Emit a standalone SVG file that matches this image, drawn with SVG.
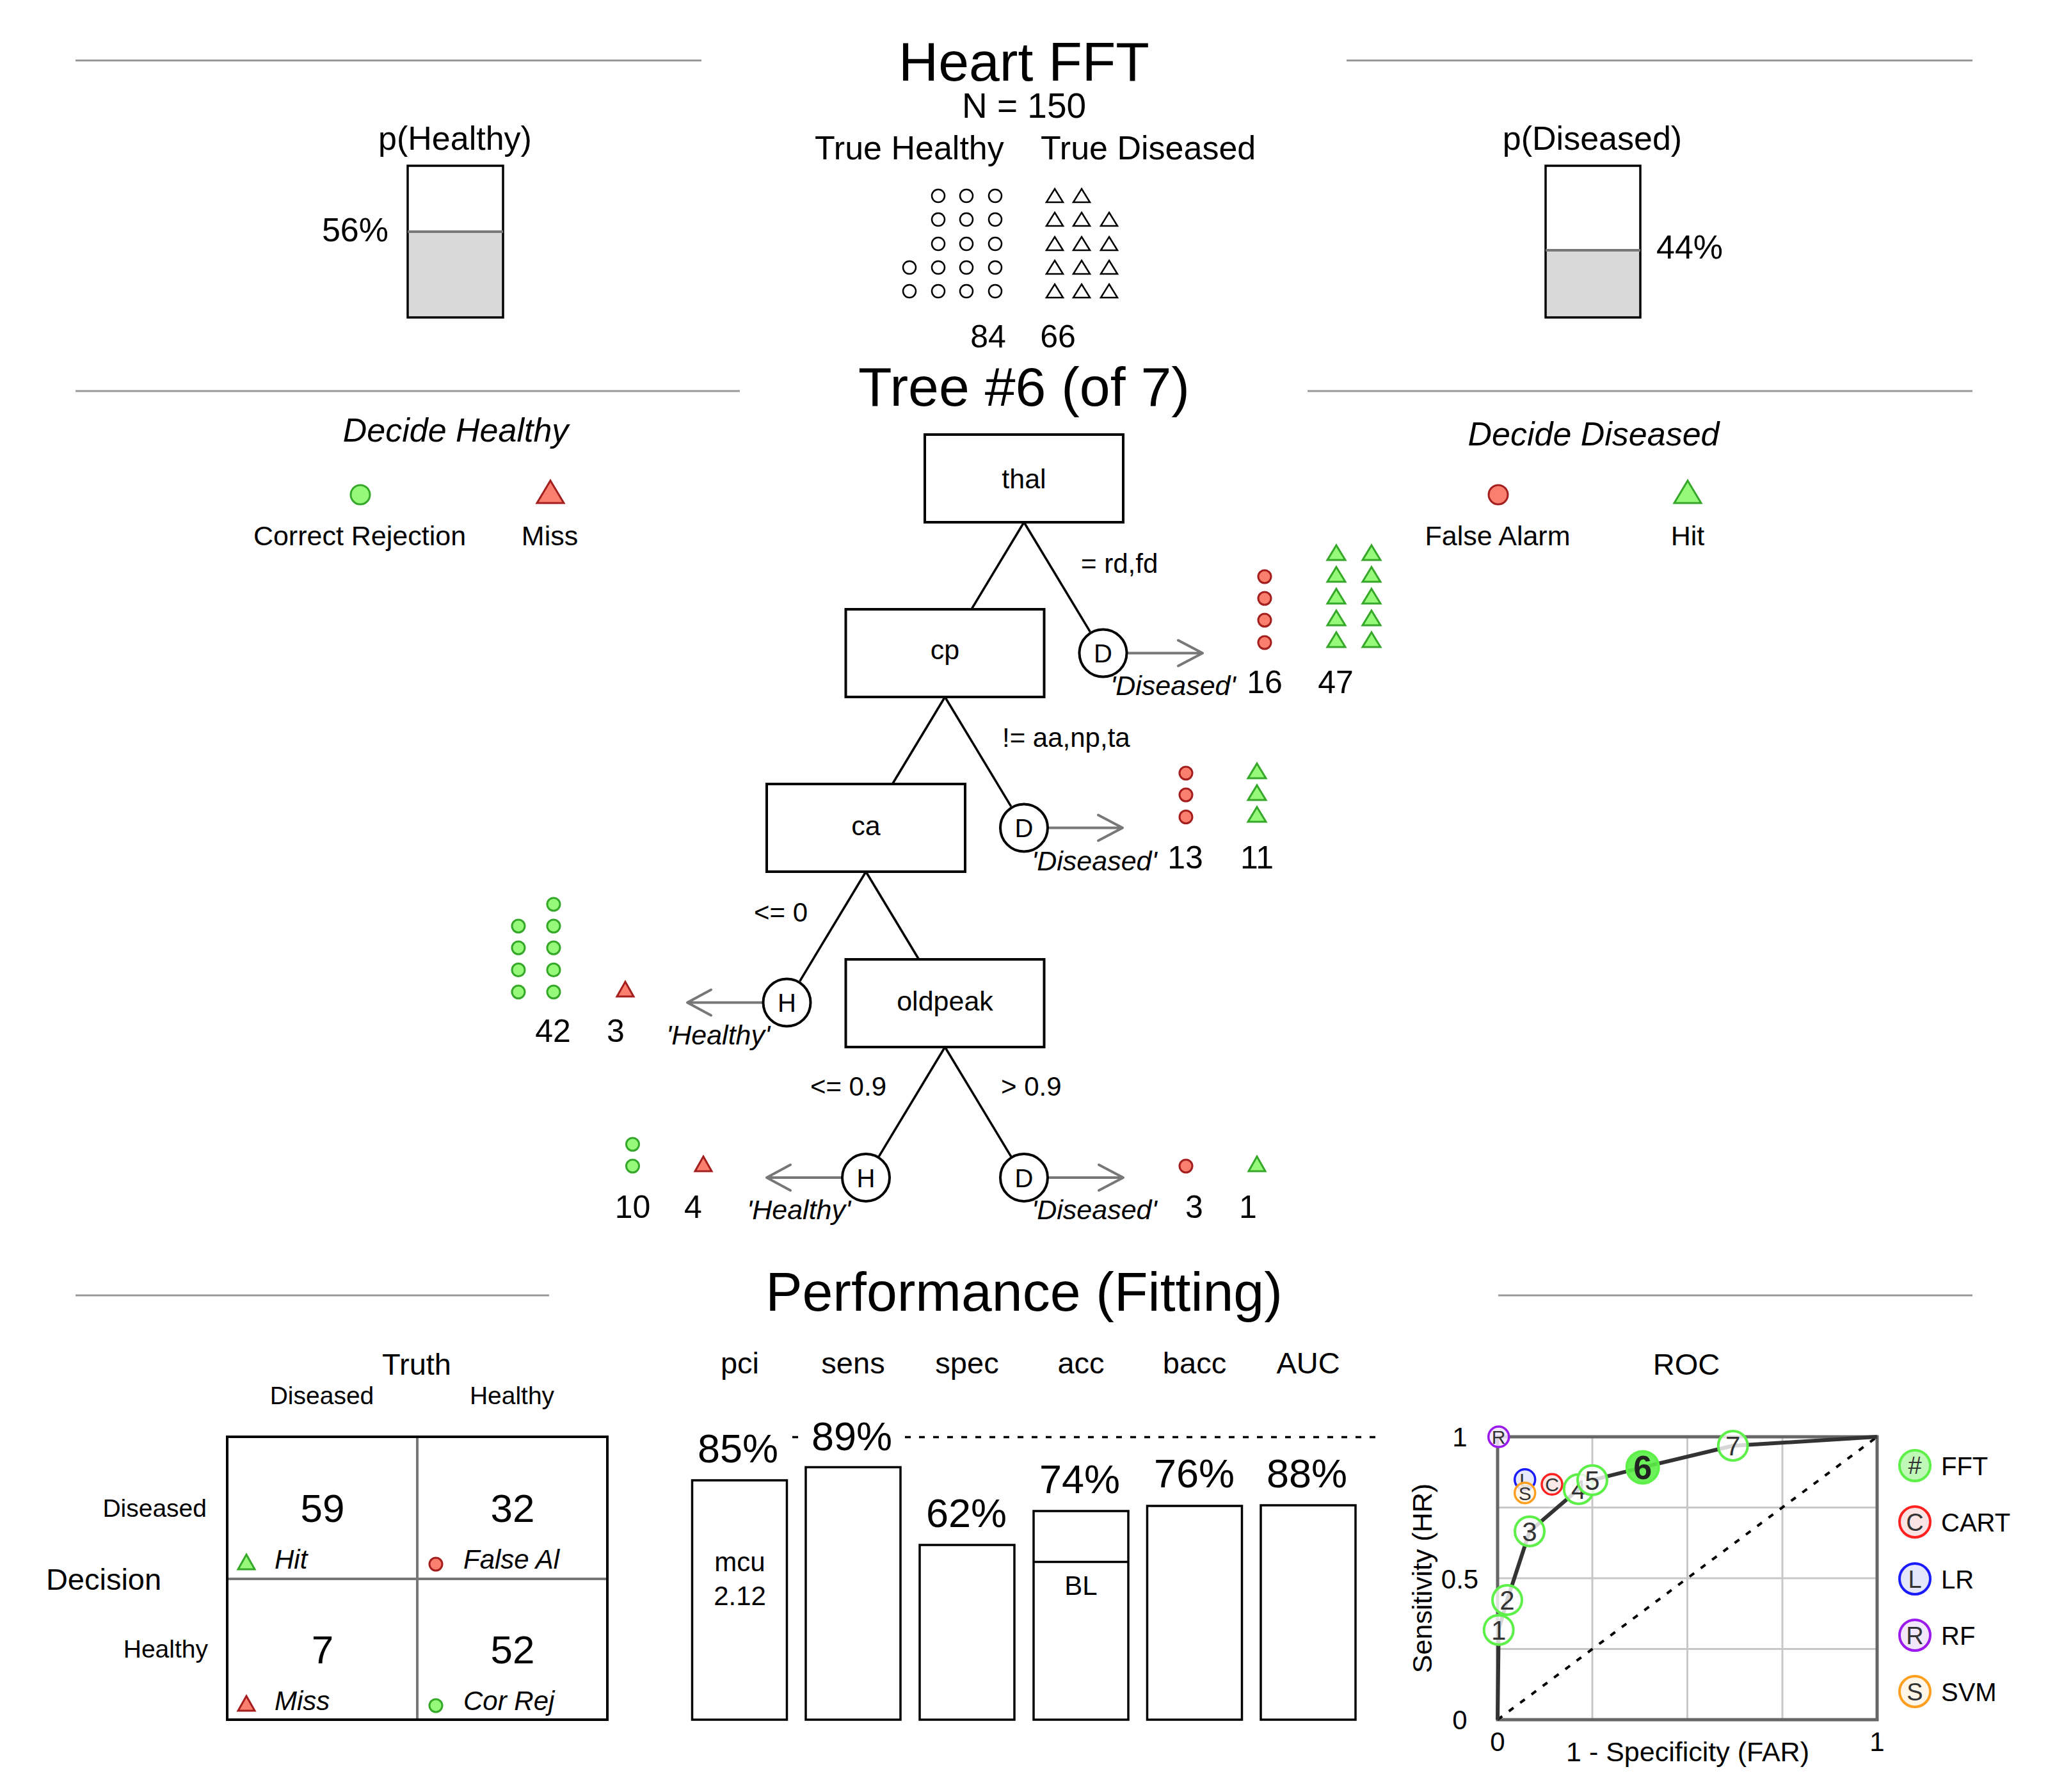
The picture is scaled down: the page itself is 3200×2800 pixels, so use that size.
<svg xmlns="http://www.w3.org/2000/svg" width="3200" height="2800" viewBox="0 0 3200 2800">
<style>
text{font-family:"Liberation Sans",Arial,sans-serif;fill:#000}
.rule{stroke:#999;stroke-width:3;fill:none}
.box{fill:#fff;stroke:#000;stroke-width:4}
.edge{stroke:#000;stroke-width:3.5;fill:none}
.arr{stroke:#777;stroke-width:4;fill:none;stroke-linecap:round;stroke-linejoin:round}
.dnode{fill:#fff;stroke:#000;stroke-width:4}
.oc{fill:#fff;stroke:#000;stroke-width:2.5}
.gc{fill:#96f97a;stroke:#35a82a;stroke-width:3}
.rc{fill:#fa7f6e;stroke:#a51e1e;stroke-width:3}
.c{text-anchor:middle}
.e{text-anchor:end}
.i{font-style:italic}
.bar{fill:#fff;stroke:#000;stroke-width:3.5}
.grid{stroke:#c8c8c8;stroke-width:3}
.pt{fill:#fff;fill-opacity:0.8;stroke:#5cf048;stroke-width:4}
.ptl{font-size:42px;fill:#333;text-anchor:middle}
</style>

<!-- section rules -->
<g id="rules">
<line class="rule" x1="118" y1="94.5" x2="1096" y2="94.5"/>
<line class="rule" x1="2104" y1="94.5" x2="3082" y2="94.5"/>
<line class="rule" x1="118" y1="611" x2="1156" y2="611"/>
<line class="rule" x1="2043" y1="611" x2="3082" y2="611"/>
<line class="rule" x1="118" y1="2024" x2="858" y2="2024"/>
<line class="rule" x1="2341" y1="2024" x2="3082" y2="2024"/>
</g>

<!-- header -->
<g id="header">
<text class="c" x="1600" y="126" font-size="86">Heart FFT</text>
<text class="c" x="1600" y="184" font-size="55">N = 150</text>
<text x="1273" y="249" font-size="52">True Healthy</text>
<text x="1626" y="249" font-size="52">True Diseased</text>
<text class="c" x="1544" y="543" font-size="50">84</text>
<text class="c" x="1653" y="543" font-size="50">66</text>
</g>

<g id="true-healthy-icons">
<circle class="oc" cx="1466" cy="306" r="10"/><circle class="oc" cx="1510" cy="306" r="10"/><circle class="oc" cx="1555" cy="306" r="10"/>
<circle class="oc" cx="1466" cy="343" r="10"/><circle class="oc" cx="1510" cy="343" r="10"/><circle class="oc" cx="1555" cy="343" r="10"/>
<circle class="oc" cx="1466" cy="381" r="10"/><circle class="oc" cx="1510" cy="381" r="10"/><circle class="oc" cx="1555" cy="381" r="10"/>
<circle class="oc" cx="1421" cy="418" r="10"/><circle class="oc" cx="1466" cy="418" r="10"/><circle class="oc" cx="1510" cy="418" r="10"/><circle class="oc" cx="1555" cy="418" r="10"/>
<circle class="oc" cx="1421" cy="455" r="10"/><circle class="oc" cx="1466" cy="455" r="10"/><circle class="oc" cx="1510" cy="455" r="10"/><circle class="oc" cx="1555" cy="455" r="10"/>
</g>
<g id="true-diseased-icons">
<polygon class="oc" points="1648,295 1661,316 1635,316"/><polygon class="oc" points="1690,295 1703,316 1677,316"/>
<polygon class="oc" points="1648,332 1661,353 1635,353"/><polygon class="oc" points="1690,332 1703,353 1677,353"/><polygon class="oc" points="1733,332 1746,353 1720,353"/>
<polygon class="oc" points="1648,370 1661,391 1635,391"/><polygon class="oc" points="1690,370 1703,391 1677,391"/><polygon class="oc" points="1733,370 1746,391 1720,391"/>
<polygon class="oc" points="1648,407 1661,428 1635,428"/><polygon class="oc" points="1690,407 1703,428 1677,428"/><polygon class="oc" points="1733,407 1746,428 1720,428"/>
<polygon class="oc" points="1648,444 1661,465 1635,465"/><polygon class="oc" points="1690,444 1703,465 1677,465"/><polygon class="oc" points="1733,444 1746,465 1720,465"/>
</g>

<g id="p-healthy">
<text class="c" x="711" y="234" font-size="52">p(Healthy)</text>
<rect x="637" y="362" width="149" height="134" fill="#d9d9d9"/>
<rect x="637" y="259" width="149" height="237" fill="none" stroke="#000" stroke-width="3.5"/>
<line x1="637" y1="362" x2="786" y2="362" stroke="#777" stroke-width="4"/>
<text class="e" x="607" y="377" font-size="52">56%</text>
</g>
<g id="p-diseased">
<text class="c" x="2488" y="234" font-size="52">p(Diseased)</text>
<rect x="2415" y="391" width="148" height="105" fill="#d9d9d9"/>
<rect x="2415" y="259" width="148" height="237" fill="none" stroke="#000" stroke-width="3.5"/>
<line x1="2415" y1="391" x2="2563" y2="391" stroke="#777" stroke-width="4"/>
<text x="2588" y="404" font-size="52">44%</text>
</g>

<!-- tree title and legends -->
<text class="c" x="1600" y="634" font-size="86">Tree #6 (of 7)</text>
<g id="legend-healthy">
<text class="c i" x="712" y="690" font-size="52">Decide Healthy</text>
<circle class="gc" cx="563" cy="773" r="15"/>
<polygon class="rc" points="860,751 881,786 839,786"/>
<text class="c" x="562" y="852" font-size="43">Correct Rejection</text>
<text class="c" x="859" y="852" font-size="43">Miss</text>
</g>
<g id="legend-diseased">
<text class="c i" x="2490" y="696" font-size="52">Decide Diseased</text>
<circle class="rc" cx="2341" cy="773" r="15"/>
<polygon class="gc" points="2637,751 2658,786 2616,786"/>
<text class="c" x="2340" y="852" font-size="43">False Alarm</text>
<text class="c" x="2637" y="852" font-size="43">Hit</text>
</g>

<!-- connectors -->
<g id="connectors">
<line class="edge" x1="1600" y1="816" x2="1517.9" y2="952"/>
<line class="edge" x1="1600" y1="816" x2="1703.3" y2="987.1"/>
<line class="edge" x1="1476.5" y1="1089" x2="1394.4" y2="1225"/>
<line class="edge" x1="1476.5" y1="1089" x2="1579.8" y2="1260.1"/>
<line class="edge" x1="1353" y1="1362" x2="1249.7" y2="1533.1"/>
<line class="edge" x1="1353" y1="1362" x2="1435.7" y2="1499"/>
<line class="edge" x1="1476.5" y1="1636" x2="1373.2" y2="1807.1"/>
<line class="edge" x1="1476.5" y1="1636" x2="1579.8" y2="1807.1"/>
<path class="arr" d="M1762.5,1020.5 H1879 M1841,1000.5 L1879,1020.5 L1841,1040.5"/>
<path class="arr" d="M1639,1293.5 H1754 M1716,1273.5 L1754,1293.5 L1716,1313.5"/>
<path class="arr" d="M1190.5,1566.5 H1074 M1111,1546.5 L1074,1566.5 L1111,1586.5"/>
<path class="arr" d="M1314,1840 H1198 M1235,1820 L1198,1840 L1235,1860"/>
<path class="arr" d="M1639,1840 H1755 M1717,1820 L1755,1840 L1717,1860"/>
<text x="1689" y="895" font-size="42">= rd,fd</text>
<text x="1566" y="1167" font-size="42">!= aa,np,ta</text>
<text class="e" x="1262" y="1440" font-size="42">&lt;= 0</text>
<text class="e" x="1385" y="1712" font-size="42">&lt;= 0.9</text>
<text x="1564" y="1712" font-size="42">&gt; 0.9</text>
</g>

<!-- nodes -->
<g id="node-thal">
<rect class="box" x="1445" y="679" width="310" height="137"/>
<text class="c" x="1600" y="763" font-size="43">thal</text>
</g>
<g id="node-cp">
<rect class="box" x="1321.5" y="952" width="310" height="137"/>
<text class="c" x="1476.5" y="1030" font-size="43">cp</text>
</g>
<g id="node-ca">
<rect class="box" x="1198" y="1225" width="310" height="137"/>
<text class="c" x="1353" y="1305" font-size="43">ca</text>
</g>
<g id="node-oldpeak">
<rect class="box" x="1321.5" y="1499" width="310" height="137"/>
<text class="c" x="1476.5" y="1579" font-size="43">oldpeak</text>
</g>

<g id="leaf-1">
<circle class="dnode" cx="1723.5" cy="1020.5" r="37"/>
<text class="c" x="1723.5" y="1035" font-size="40">D</text>
<text class="i" x="1735" y="1086" font-size="43">'Diseased'</text>
<text class="c" x="1976" y="1083" font-size="50">16</text>
<text class="c" x="2087" y="1083" font-size="50">47</text>
<circle class="rc" cx="1976" cy="901" r="10"/><circle class="rc" cx="1976" cy="935" r="10"/><circle class="rc" cx="1976" cy="969" r="10"/><circle class="rc" cx="1976" cy="1004" r="10"/>
<polygon class="gc" points="2088,852 2102,875 2074,875"/><polygon class="gc" points="2143,852 2157,875 2129,875"/>
<polygon class="gc" points="2088,886 2102,909 2074,909"/><polygon class="gc" points="2143,886 2157,909 2129,909"/>
<polygon class="gc" points="2088,920 2102,943 2074,943"/><polygon class="gc" points="2143,920 2157,943 2129,943"/>
<polygon class="gc" points="2088,954 2102,977 2074,977"/><polygon class="gc" points="2143,954 2157,977 2129,977"/>
<polygon class="gc" points="2088,988 2102,1011 2074,1011"/><polygon class="gc" points="2143,988 2157,1011 2129,1011"/>
</g>
<g id="leaf-2">
<circle class="dnode" cx="1600" cy="1293.5" r="37"/>
<text class="c" x="1600" y="1308" font-size="40">D</text>
<text class="i" x="1612" y="1360" font-size="43">'Diseased'</text>
<text class="c" x="1852" y="1357" font-size="50">13</text>
<text class="c" x="1964" y="1357" font-size="50">11</text>
<circle class="rc" cx="1853" cy="1208" r="10"/><circle class="rc" cx="1853" cy="1242" r="10"/><circle class="rc" cx="1853" cy="1276.5" r="10"/>
<polygon class="gc" points="1964,1193 1978,1216 1950,1216"/><polygon class="gc" points="1964,1227 1978,1250 1950,1250"/><polygon class="gc" points="1964,1261 1978,1284 1950,1284"/>
</g>
<g id="leaf-3">
<circle class="dnode" cx="1229.5" cy="1566.5" r="37"/>
<text class="c" x="1229.5" y="1581" font-size="40">H</text>
<text class="i" x="1041" y="1632" font-size="43">'Healthy'</text>
<text class="c" x="864" y="1628" font-size="50">42</text>
<text class="c" x="962" y="1628" font-size="50">3</text>
<circle class="gc" cx="865" cy="1413" r="10"/>
<circle class="gc" cx="810" cy="1447" r="10"/><circle class="gc" cx="865" cy="1447" r="10"/>
<circle class="gc" cx="810" cy="1481" r="10"/><circle class="gc" cx="865" cy="1481" r="10"/>
<circle class="gc" cx="810" cy="1515.5" r="10"/><circle class="gc" cx="865" cy="1515.5" r="10"/>
<circle class="gc" cx="810" cy="1550" r="10"/><circle class="gc" cx="865" cy="1550" r="10"/>
<polygon class="rc" points="977,1534 990,1557 964,1557"/>
</g>
<g id="leaf-4">
<circle class="dnode" cx="1353" cy="1840" r="37"/>
<text class="c" x="1353" y="1854.5" font-size="40">H</text>
<text class="i" x="1167" y="1905" font-size="43">'Healthy'</text>
<text class="c" x="988.5" y="1903" font-size="50">10</text>
<text class="c" x="1083" y="1903" font-size="50">4</text>
<circle class="gc" cx="988.5" cy="1788" r="10"/><circle class="gc" cx="988.5" cy="1822" r="10"/>
<polygon class="rc" points="1099,1807 1112,1830 1086,1830"/>
</g>
<g id="leaf-5">
<circle class="dnode" cx="1600" cy="1840" r="37"/>
<text class="c" x="1600" y="1854.5" font-size="40">D</text>
<text class="i" x="1612" y="1905" font-size="43">'Diseased'</text>
<text class="c" x="1866" y="1903" font-size="50">3</text>
<text class="c" x="1950" y="1903" font-size="50">1</text>
<circle class="rc" cx="1853" cy="1822" r="10"/>
<polygon class="gc" points="1964,1807 1977,1830 1951,1830"/>
</g>

<!-- performance -->
<text class="c" x="1600" y="2048" font-size="86">Performance (Fitting)</text>

<g id="confusion-matrix">
<text class="c" x="651" y="2148" font-size="47">Truth</text>
<text class="c" x="503" y="2194" font-size="39">Diseased</text>
<text class="c" x="800" y="2194" font-size="39">Healthy</text>
<text class="e" x="323" y="2370" font-size="39">Diseased</text>
<text class="e" x="325" y="2590" font-size="39">Healthy</text>
<text class="c" x="162" y="2484" font-size="47">Decision</text>
<line x1="652" y1="2245" x2="652" y2="2687" stroke="#777" stroke-width="4"/>
<line x1="355" y1="2467" x2="949" y2="2467" stroke="#777" stroke-width="4"/>
<rect x="355" y="2245" width="594" height="442" fill="none" stroke="#000" stroke-width="4"/>
<text class="c" x="504" y="2378" font-size="62">59</text>
<text class="c" x="801" y="2378" font-size="62">32</text>
<text class="c" x="504" y="2599" font-size="62">7</text>
<text class="c" x="801" y="2599" font-size="62">52</text>
<polygon class="gc" points="385,2429 398,2452 372,2452"/>
<text class="i" x="429" y="2451" font-size="42">Hit</text>
<circle class="rc" cx="681" cy="2444" r="10"/>
<text class="i" x="724" y="2451" font-size="42">False Al</text>
<polygon class="rc" points="385,2650 398,2673 372,2673"/>
<text class="i" x="429" y="2672" font-size="42">Miss</text>
<circle class="gc" cx="681" cy="2665" r="10"/>
<text class="i" x="724" y="2672" font-size="42">Cor Rej</text>
</g>

<g id="metrics">
<text class="c" x="1156" y="2146" font-size="47">pci</text>
<text class="c" x="1333" y="2146" font-size="47">sens</text>
<text class="c" x="1511" y="2146" font-size="47">spec</text>
<text class="c" x="1689" y="2146" font-size="47">acc</text>
<text class="c" x="1866.5" y="2146" font-size="47">bacc</text>
<text class="c" x="2044" y="2146" font-size="47">AUC</text>
<line x1="1238" y1="2245.5" x2="1252" y2="2245.5" stroke="#000" stroke-width="3.5" stroke-dasharray="9 13"/>
<line x1="1414" y1="2245.5" x2="2157" y2="2245.5" stroke="#000" stroke-width="3.5" stroke-dasharray="9 13"/>
<rect class="bar" x="1081.5" y="2313" width="148" height="374"/>
<rect class="bar" x="1259" y="2292.5" width="148" height="394.5"/>
<rect class="bar" x="1437" y="2414" width="148" height="273"/>
<rect class="bar" x="1615" y="2361" width="148" height="326"/>
<line x1="1615" y1="2440.5" x2="1763" y2="2440.5" stroke="#000" stroke-width="3.5"/>
<rect class="bar" x="1792.5" y="2353" width="148" height="334"/>
<rect class="bar" x="1970" y="2352" width="148" height="335"/>
<text class="c" x="1153" y="2285" font-size="63">85%</text>
<text class="c" x="1331" y="2265.5" font-size="63">89%</text>
<text class="c" x="1510" y="2386" font-size="63">62%</text>
<text class="c" x="1687" y="2333" font-size="63">74%</text>
<text class="c" x="1866" y="2324" font-size="63">76%</text>
<text class="c" x="2042" y="2324" font-size="63">88%</text>
<text class="c" x="1156" y="2455" font-size="42">mcu</text>
<text class="c" x="1156" y="2508" font-size="42">2.12</text>
<text class="c" x="1689" y="2492" font-size="42">BL</text>
</g>

<g id="roc">
<text class="c" x="2635" y="2148" font-size="47">ROC</text>
<line class="grid" x1="2488" y1="2245" x2="2488" y2="2687"/>
<line class="grid" x1="2636.5" y1="2245" x2="2636.5" y2="2687"/>
<line class="grid" x1="2785" y1="2245" x2="2785" y2="2687"/>
<line class="grid" x1="2340" y1="2355.5" x2="2933" y2="2355.5"/>
<line class="grid" x1="2340" y1="2466" x2="2933" y2="2466"/>
<line class="grid" x1="2340" y1="2576.5" x2="2933" y2="2576.5"/>
<rect x="2340" y="2245" width="593" height="442" fill="none" stroke="#666" stroke-width="5"/>
<line x1="2340" y1="2687" x2="2933" y2="2245" stroke="#000" stroke-width="4" stroke-dasharray="9 13"/>
<polyline points="2340,2687 2341.7,2546.7 2355,2500 2390,2392.7 2466.7,2326.7 2488,2312.7 2566.7,2292.7 2707.7,2259 2933,2245" fill="none" stroke="#333" stroke-width="6" stroke-linejoin="round"/>
<text class="c" x="2281" y="2260" font-size="42">1</text>
<text class="c" x="2281" y="2482" font-size="42">0.5</text>
<text class="c" x="2281" y="2702" font-size="42">0</text>
<text class="c" x="2340" y="2736" font-size="42">0</text>
<text class="c" x="2933" y="2736" font-size="42">1</text>
<text class="c" x="2637" y="2752" font-size="43">1 - Specificity (FAR)</text>
<text class="c" transform="translate(2237,2466) rotate(-90)" font-size="43">Sensitivity (HR)</text>
<circle cx="2341.7" cy="2245" r="16" fill="#f2e6fb" fill-opacity="0.85" stroke="#9a1aee" stroke-width="3.5"/>
<text class="c" x="2341.7" y="2256" font-size="30" fill="#333" style="fill:#333">R</text>
<circle cx="2382.7" cy="2311.7" r="16" fill="#e4e6fb" fill-opacity="0.85" stroke="#1a1aff" stroke-width="3.5"/>
<text class="c" x="2382.7" y="2322.7" font-size="30" style="fill:#333">L</text>
<circle cx="2382.7" cy="2332.7" r="16" fill="#fff6e8" fill-opacity="0.85" stroke="#ff9f20" stroke-width="3.5"/>
<text class="c" x="2382.7" y="2343.7" font-size="30" style="fill:#333">S</text>
<circle cx="2425" cy="2319.3" r="16" fill="#fde4e4" fill-opacity="0.85" stroke="#ff2020" stroke-width="3.5"/>
<text class="c" x="2425" y="2330.3" font-size="30" style="fill:#333">C</text>
<circle class="pt" cx="2341.7" cy="2546.7" r="23"/><text class="ptl" x="2341.7" y="2561.7" style="fill:#333">1</text>
<circle class="pt" cx="2355" cy="2500" r="23"/><text class="ptl" x="2355" y="2515" style="fill:#333">2</text>
<circle class="pt" cx="2390" cy="2392.7" r="23"/><text class="ptl" x="2390" y="2407.7" style="fill:#333">3</text>
<circle class="pt" cx="2466.7" cy="2326.7" r="23"/><text class="ptl" x="2466.7" y="2341.7" style="fill:#333">4</text>
<circle class="pt" cx="2488" cy="2312.7" r="23"/><text class="ptl" x="2488" y="2327.7" style="fill:#333">5</text>
<circle cx="2566.7" cy="2292.7" r="25" fill="#5cf048" fill-opacity="0.9" stroke="#5cf048" stroke-width="4"/>
<text class="c" x="2566.7" y="2311" font-size="52" font-weight="bold" style="fill:#222">6</text>
<circle class="pt" cx="2707.7" cy="2259" r="23"/><text class="ptl" x="2707.7" y="2274" style="fill:#333">7</text>
</g>

<g id="roc-legend">
<circle cx="2992" cy="2290" r="24" fill="#c0f8b8" stroke="#5cf048" stroke-width="4"/>
<text class="c" x="2992" y="2303" font-size="38" style="fill:#333">#</text>
<text x="3033" y="2305" font-size="40">FFT</text>
<circle cx="2992" cy="2378" r="24" fill="#fde4e4" stroke="#ff2020" stroke-width="4"/>
<text class="c" x="2992" y="2391.5" font-size="38" style="fill:#333">C</text>
<text x="3033" y="2393" font-size="40">CART</text>
<circle cx="2992" cy="2467" r="24" fill="#e4e6fb" stroke="#1a1aff" stroke-width="4"/>
<text class="c" x="2992" y="2480.5" font-size="38" style="fill:#333">L</text>
<text x="3033" y="2482" font-size="40">LR</text>
<circle cx="2992" cy="2555" r="24" fill="#f2e6fb" stroke="#9a1aee" stroke-width="4"/>
<text class="c" x="2992" y="2568.5" font-size="38" style="fill:#333">R</text>
<text x="3033" y="2570" font-size="40">RF</text>
<circle cx="2992" cy="2643" r="24" fill="#fff6e8" stroke="#ff9f20" stroke-width="4"/>
<text class="c" x="2992" y="2656.5" font-size="38" style="fill:#333">S</text>
<text x="3033" y="2658" font-size="40">SVM</text>
</g>
</svg>
